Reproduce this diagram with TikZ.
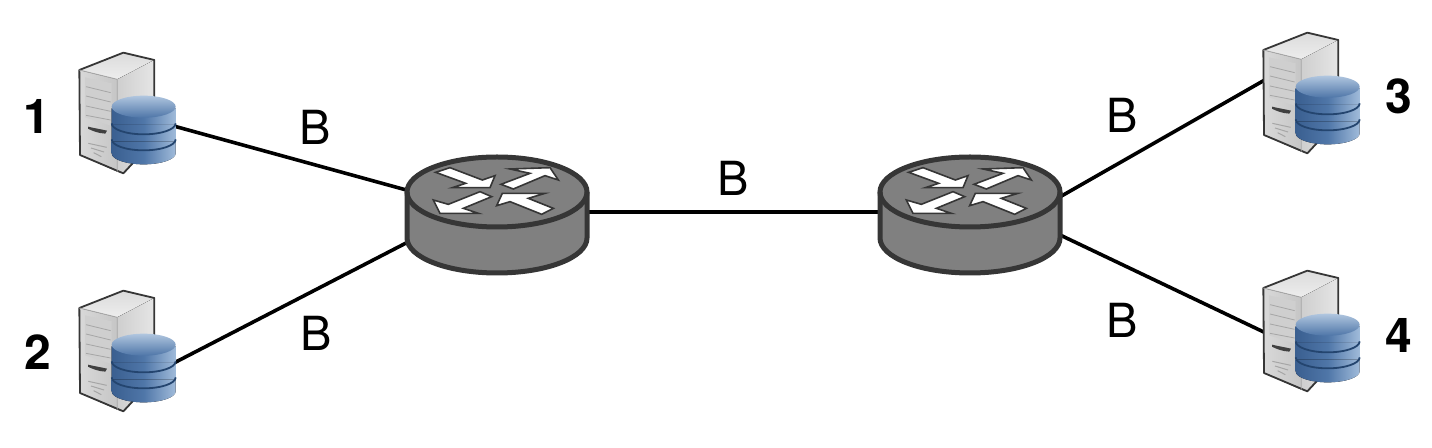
\documentclass[tikz,border=0pt]{standalone}
\usepackage{fontspec}
\setmainfont{TeX Gyre Heros}
\usetikzlibrary{calc}
\definecolor{rfill}{HTML}{808080}
\definecolor{rline}{HTML}{363636}
\definecolor{cyldark}{HTML}{3A5F90}
\definecolor{cylmid}{HTML}{4F76A8}
\definecolor{cyllight}{HTML}{A0BBDA}
\definecolor{cyltop}{HTML}{B0C6DF}
\definecolor{cylring}{HTML}{24456F}
\tikzset{
  link/.style={line width=1.8pt,black},
  biglabel/.style={font=\fontsize{23.5}{26}\selectfont,inner sep=0pt},
  numlabel/.style={font=\fontsize{24}{26}\selectfont\bfseries,inner sep=0pt},
  arrowshape/.style={fill=white,draw=rline,line width=.8pt,line join=miter},
  cylband/.style={left color=cyldark,right color=cyllight,middle color=cylmid,draw=none},
  server/.pic={
    \begin{scope}[x=.16667pt,y=-.16667pt]
      % tower
      \fill[left color=gray!30,right color=gray!45] (58,90) -- (172,118) -- (172,395) -- (60,345) -- cycle;
      \fill[top color=gray!28,bottom color=gray!14] (58,90) -- (190,38) -- (283,60) -- (172,118) -- cycle;
      \fill[left color=gray!38,right color=gray!20] (172,118) -- (283,60) -- (283,300) -- (190,400) -- (172,395) -- cycle;
      \draw[rline,line width=.9pt,line join=round] (58,90) -- (190,38) -- (283,60) -- (283,300) -- (190,400) -- (60,345) -- cycle;
      \draw[gray!70,line width=.4pt] (58,90) -- (172,118) -- (172,395);
      % panel
      \fill[gray!38] (75,112) -- (155,130) -- (155,258) -- (75,232) -- cycle;
      \foreach \a/\b in {140/158,168/186,198/214,226/240}
        \draw[gray!70,line width=.4pt] (78,\a) -- (152,\b);
      \fill[black!75] (84,260) .. controls (100,264) and (125,268) .. (141,272) -- (136,281) .. controls (115,280) and (95,272) .. (84,266) -- cycle;
      \foreach \a/\b/\c in {310/322/0,324/336/8,338/350/16}
        \draw[gray!70,line width=.5pt] (85+\c,\a) -- (140-\c,\b);
      % cylinder
      \fill[cylband] (155,205) -- (155,250) arc[start angle=180,end angle=360,x radius=16pt,y radius=5.5pt] -- (347,205) -- cycle;
      \fill[cylband] (155,255) -- (155,300) arc[start angle=180,end angle=360,x radius=16pt,y radius=5.5pt] -- (347,255) -- cycle;
      \fill[cylband] (155,305) -- (155,340) arc[start angle=180,end angle=360,x radius=16pt,y radius=5.5pt] -- (347,305) -- cycle;
      \draw[cylring,line width=.9pt] (155,250) arc[start angle=180,end angle=360,x radius=16pt,y radius=5.5pt];
      \draw[cylring,line width=.9pt] (155,298) arc[start angle=180,end angle=360,x radius=16pt,y radius=5.5pt];
      \shade[top color=cyltop,bottom color=cylmid] (251,200) ellipse [x radius=16pt,y radius=5.5pt];
    \end{scope}
  },
  router/.pic={
    \fill[rfill] (-90,0) -- (-90,46) arc[start angle=180,end angle=360,x radius=45pt,y radius=17.5pt] -- (90,0) arc[start angle=0,end angle=180,x radius=45pt,y radius=17.5pt] -- cycle;
    \draw[rline,line width=2.5pt,line join=round] (-90,0) -- (-90,46) arc[start angle=180,end angle=360,x radius=45pt,y radius=17.5pt] -- (90,0);
    \draw[rline,line width=2.5pt] (0,0) ellipse [x radius=45pt,y radius=17.5pt];
    \begin{scope}[shift={(-102,-47)},x=.16667pt,y=-.16667pt]
      \draw[arrowshape] (122,82) -- (165,68) -- (262,105) -- (300,92) -- (285,128) -- (172,128) -- (212,115) -- cycle;
      \draw[arrowshape] (318,118) -- (405,85) -- (345,72) -- (465,68) -- (490,105) -- (450,92) -- (355,132) -- cycle;
      \draw[arrowshape] (255,140) -- (290,155) -- (205,190) -- (250,205) -- (135,205) -- (115,165) -- (160,178) -- cycle;
      \draw[arrowshape] (475,190) -- (440,208) -- (345,170) -- (305,182) -- (322,145) -- (450,145) -- (400,160) -- cycle;
    \end{scope}
  }
}
\begin{document}
\begin{tikzpicture}[x=.5pt,y=-.5pt]
  \useasboundingbox (0,0) rectangle (1432,448);
  \coordinate (s1) at (170,125);
  \coordinate (s2) at (170,365);
  \coordinate (s3) at (1270,77);
  \coordinate (s4) at (1270,335);
  \coordinate (r1l) at (410,191);
  \coordinate (r1b) at (410,241);
  \coordinate (r1r) at (585,212);
  \coordinate (r2l) at (883,212);
  \coordinate (r2t) at (1058,198);
  \coordinate (r2b) at (1058,234);
  \draw[link] (s1) -- (r1l);
  \draw[link] (s2) -- (r1b);
  \draw[link] (r1r) -- (r2l);
  \draw[link] (r2t) -- (s3);
  \draw[link] (r2b) -- (s4);
  \pic at (60,40) {server};
  \pic at (60,278) {server};
  \pic at (1244,20) {server};
  \pic at (1244,258) {server};
  \pic at (497,192) {router};
  \pic at (970,192) {router};
  \node[biglabel] (b1) at (315,127) {B};
  \node[biglabel] (b2) at (316,333) {B};
  \node[biglabel] (b3) at (733,178) {B};
  \node[biglabel] (b4) at (1122,115) {B};
  \node[biglabel] (b5) at (1122,320) {B};
  \node[numlabel] (n1) at (37,116) {1};
  \node[numlabel] (n2) at (38,352) {2};
  \node[numlabel] (n3) at (1399,96) {3};
  \node[numlabel] (n4) at (1399,335) {4};
\end{tikzpicture}
\end{document}
